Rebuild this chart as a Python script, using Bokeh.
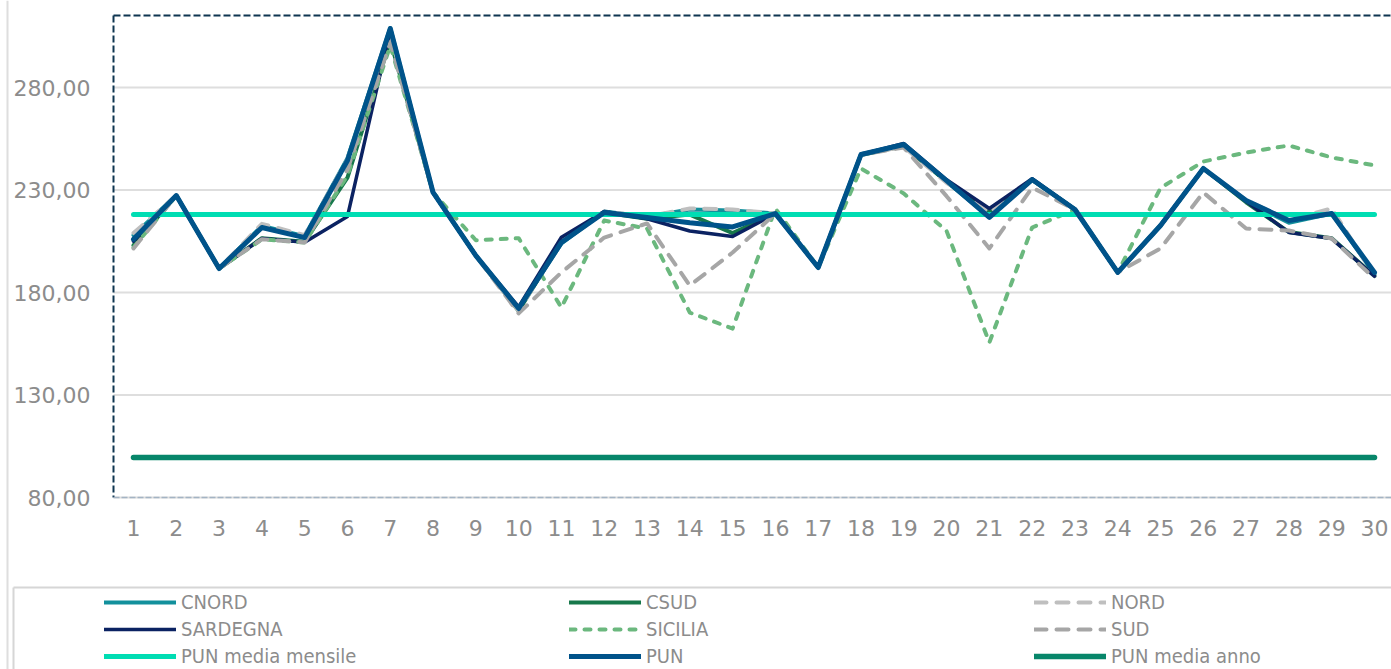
from bokeh.plotting import figure
from bokeh.models import Range1d, Legend, LegendItem, ColumnDataSource
from bokeh.core.properties import value
from bokeh.embed import file_html
from bokeh.resources import INLINE

# ---------------- data ----------------
days = list(range(1, 31))
day_labels = [str(d) for d in days]
y_ticks = [80, 130, 180, 230, 280]
y_tick_labels = ["80,00", "130,00", "180,00", "230,00", "280,00"]

cnord = [208.0, 227.3, 191.7, 212.5, 207.5, 245.5, 309.0, 228.8, 198.0, 172.0,
         204.0, 219.5, 217.0, 220.5, 220.0, 218.5, 192.2, 247.5, 252.0, 234.0,
         217.0, 235.0, 220.5, 189.8, 212.7, 240.5, 224.5, 214.0, 218.5, 189.0]
csud = [203.0, 227.3, 191.7, 206.5, 204.8, 236.0, 303.0, 228.8, 198.0, 171.0,
        205.0, 219.0, 216.0, 218.0, 209.0, 218.5, 192.2, 247.0, 251.5, 234.0,
        219.0, 235.0, 220.5, 189.8, 212.7, 240.5, 224.0, 209.5, 206.5, 188.0]
nord = [209.0, 227.3, 191.7, 213.5, 208.0, 245.0, 306.0, 228.8, 198.0, 171.0,
        205.0, 219.5, 217.0, 221.0, 220.5, 218.5, 192.2, 247.5, 251.0, 233.5,
        219.0, 235.0, 220.5, 189.8, 212.7, 240.5, 225.0, 215.5, 221.0, 188.0]
sardegna = [205.0, 227.3, 191.7, 206.3, 204.5, 217.1, 308.0, 228.8, 198.0, 173.0,
            207.0, 219.5, 216.0, 210.0, 207.3, 218.5, 192.2, 247.3, 252.7, 235.0,
            221.0, 235.5, 220.5, 189.8, 212.7, 240.5, 224.5, 209.3, 206.3, 188.0]
sicilia = [202.0, 227.3, 191.7, 205.9, 204.4, 237.0, 300.5, 228.8, 205.5, 206.5,
           172.7, 215.1, 211.2, 170.2, 162.4, 221.0, 192.2, 240.5, 228.3, 210.0,
           155.6, 211.7, 220.5, 189.8, 231.0, 243.9, 248.3, 251.7, 245.9, 242.0]
sud = [201.5, 227.3, 191.7, 206.0, 204.4, 240.0, 302.0, 228.8, 198.0, 169.8,
       189.8, 206.8, 213.7, 183.4, 199.5, 218.5, 192.2, 247.3, 250.7, 227.0,
       201.5, 231.2, 220.5, 189.8, 201.5, 228.8, 211.2, 210.2, 206.3, 186.8]
pun_media_mensile = [218.0, 218.0, 218.0, 218.0, 218.0, 218.0, 218.0, 218.0, 218.0, 218.0,
                     218.0, 218.0, 218.0, 218.0, 218.0, 218.0, 218.0, 218.0, 218.0, 218.0,
                     218.0, 218.0, 218.0, 218.0, 218.0, 218.0, 218.0, 218.0, 218.0, 218.0]
pun = [206.0, 227.3, 191.7, 211.7, 206.8, 244.4, 308.8, 228.8, 198.0, 172.2,
       204.4, 219.0, 216.6, 214.0, 212.0, 218.5, 192.2, 247.3, 252.2, 234.6,
       216.6, 235.1, 220.5, 189.8, 212.7, 240.5, 224.9, 215.1, 218.5, 189.8]
pun_media_anno = [99.5, 99.5, 99.5, 99.5, 99.5, 99.5, 99.5, 99.5, 99.5, 99.5,
                  99.5, 99.5, 99.5, 99.5, 99.5, 99.5, 99.5, 99.5, 99.5, 99.5,
                  99.5, 99.5, 99.5, 99.5, 99.5, 99.5, 99.5, 99.5, 99.5, 99.5]

series = [
    ("CNORD", cnord, dict(line_color="#12909C", line_width=4)),
    ("CSUD", csud, dict(line_color="#17784B", line_width=4)),
    ("NORD", nord, dict(line_color="#BFBFBF", line_width=4, line_dash="12 10")),
    ("SARDEGNA", sardegna, dict(line_color="#0B2262", line_width=3.5)),
    ("SICILIA", sicilia, dict(line_color="#6BB87E", line_width=4, line_dash="6 9")),
    ("SUD", sud, dict(line_color="#A6A6A6", line_width=4, line_dash="12 10")),
    ("PUN media mensile", pun_media_mensile, dict(line_color="#00DDB3", line_width=5)),
    ("PUN", pun, dict(line_color="#00538A", line_width=5)),
    ("PUN media anno", pun_media_anno, dict(line_color="#07866A", line_width=5.5)),
]

# ---------------- layout (pixel geometry of the page) ----------------
W, H = 1391, 669
PX_X1, PX_X30 = 133.0, 1374.0          # pixel x of day 1 and day 30
PX_Y80, PX_Y280 = 497.0, 87.0          # pixel y of 80 and 280
PPX = (PX_X30 - PX_X1) / (days[-1] - days[0])
PPY = (PX_Y80 - PX_Y280) / (y_ticks[-1] - y_ticks[0])
X_START = days[0] - PX_X1 / PPX
X_END = X_START + W / PPX
Y_TOP = y_ticks[0] + PX_Y80 / PPY
Y_BOT = Y_TOP - H / PPY


def dx(px):
    return X_START + px / PPX


def dy(py):
    return Y_TOP - py / PPY


PLOT_L, PLOT_T = 113, 15
TXT = "#8C8C8C"
TICK_FONT = value("DejaVu Sans")

p = figure(width=W, height=H, output_backend="svg", toolbar_location=None,
           x_range=Range1d(X_START, X_END), y_range=Range1d(Y_BOT, Y_TOP),
           x_axis_location=None, y_axis_location=None,
           min_border=0, min_border_left=0, min_border_right=0,
           min_border_top=0, min_border_bottom=0)
p.outline_line_color = None
p.grid.visible = False
p.background_fill_color = "white"
p.border_fill_color = "white"

# gridlines (one per y tick)
p.segment(x0=dx(PLOT_L), x1=X_END, y0=y_ticks, y1=y_ticks,
          line_color="#DEDEDE", line_width=2)

# tick labels
ysrc = ColumnDataSource(dict(y=y_ticks, t=y_tick_labels))
p.text(x=dx(90), y="y", text="t", source=ysrc, text_align="right",
       text_baseline="middle", text_font=TICK_FONT, text_font_size="22px",
       text_color=TXT)
xsrc = ColumnDataSource(dict(x=days, t=day_labels))
p.text(x="x", y=dy(527), text="t", source=xsrc, text_align="center",
       text_baseline="middle", text_font=TICK_FONT, text_font_size="22px",
       text_color=TXT)

# plot-area border: dashed navy top/left, light dashed bottom
p.segment(x0=dx(PLOT_L), x1=X_END, y0=dy(PLOT_T), y1=dy(PLOT_T),
          line_color="#0E3550", line_width=2, line_dash="7 3")
p.segment(x0=dx(PLOT_L), x1=dx(PLOT_L), y0=dy(PLOT_T), y1=y_ticks[0],
          line_color="#0E3550", line_width=2, line_dash="7 3")
p.segment(x0=dx(PLOT_L), x1=X_END, y0=y_ticks[0], y1=y_ticks[0],
          line_color="#A4B4C4", line_width=1.5, line_dash="6 2")

# chart-area border and legend box
p.segment(x0=dx(7), x1=dx(7), y0=Y_TOP, y1=Y_BOT, line_color="#DEDEDE", line_width=2)
p.segment(x0=dx(13), x1=X_END, y0=dy(587), y1=dy(587), line_color="#D6D6D6", line_width=2)
p.segment(x0=dx(13), x1=dx(13), y0=dy(587), y1=Y_BOT, line_color="#D6D6D6", line_width=2)

# series
items = []
for name, vals, style in series:
    r = p.line(days, vals, line_cap="round", line_join="round", **style)
    items.append(LegendItem(label=name, renderers=[r]))

ROW_TOP = 590
LEG_H = 3 * 24 + 2 * 3
leg = Legend(items=items, ncols=3, orientation="horizontal",
             location=(104, H - (ROW_TOP + LEG_H)),
             glyph_width=72, glyph_height=24, label_height=24, label_width=385,
             label_standoff=5, spacing=3, padding=0, margin=0,
             border_line_color=None, background_fill_alpha=0,
             label_text_font="'Liberation Sans Narrow', 'DejaVu Sans Condensed', sans-serif",
             label_text_font_size="20px", label_text_color=TXT)
p.add_layout(leg, "center")

open("out.html", "w").write(file_html(p, INLINE))
